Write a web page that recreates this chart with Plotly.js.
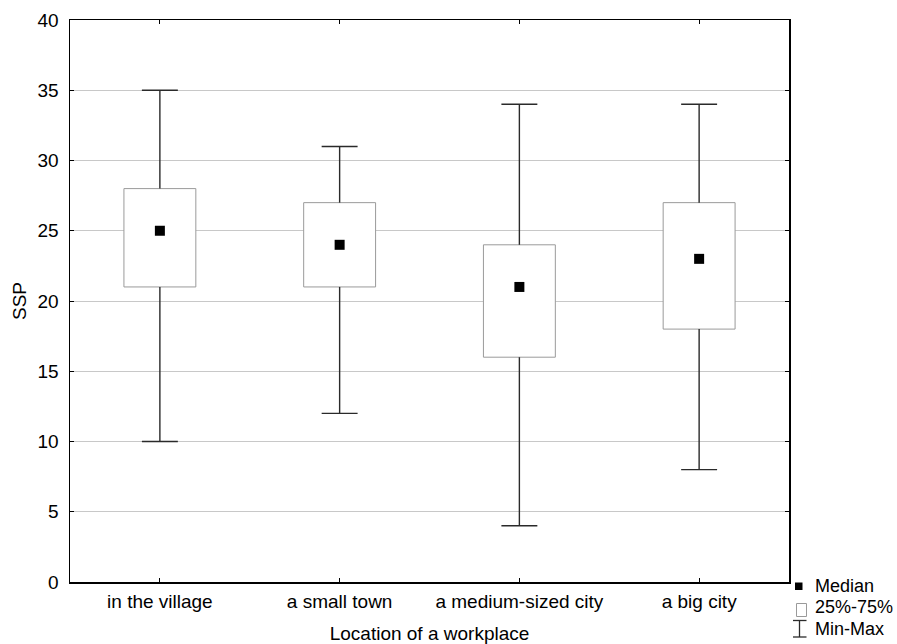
<!DOCTYPE html>
<html>
<head>
<meta charset="utf-8">
<script src="https://cdn.plot.ly/plotly-3.0.1.min.js"></script>
<style>html,body{margin:0;padding:0;background:#fff;}#chart{width:897px;height:644px;}</style>
</head>
<body>
<div id="chart"></div>
<script>
var categories = ["in the village", "a small town", "a medium-sized city", "a big city"];
var minValues = [10, 12, 4, 8];
var q1Values = [21, 21, 16, 18];
var medianValues = [25, 24, 21, 23];
var q3Values = [28, 27, 24, 27];
var maxValues = [35, 31, 34, 34];
var yTicks = [0, 5, 10, 15, 20, 25, 30, 35, 40];
var legendLabels = ["Median", "25%-75%", "Min-Max"];

var FONT = "Liberation Sans, Arial, sans-serif";
var FS = 19;
var W = 897, H = 644;
var M = { l: 70, r: 108, t: 20, b: 62 };
var idx = categories.map(function (c, i) { return i; });
var capHalf = 0.1;

// pixel -> paper helpers (for legend placement only)
function px(x) { return (x - M.l) / (W - M.l - M.r); }
function py(y) { return (H - M.b - y) / (H - M.t - M.b); }

// whisker + cap segments built from the data arrays
var wx = [], wy = [];
idx.forEach(function (i) {
  wx.push(i - capHalf, i + capHalf, null, i, i, null, i, i, null, i - capHalf, i + capHalf, null);
  wy.push(maxValues[i], maxValues[i], null, maxValues[i], q3Values[i], null, q1Values[i], minValues[i], null, minValues[i], minValues[i], null);
});

var traces = [
  {
    type: "bar", name: legendLabels[1],
    x: idx, base: q1Values,
    y: q3Values.map(function (v, i) { return v - q1Values[i]; }),
    width: 0.4,
    marker: { color: "#ffffff", line: { color: "#9a9a9a", width: 1 } },
    hoverinfo: "none"
  },
  {
    type: "scatter", mode: "lines", name: legendLabels[2],
    x: wx, y: wy, connectgaps: false,
    line: { color: "#2a2a2a", width: 1.4 },
    hoverinfo: "none"
  },
  {
    type: "scatter", mode: "markers", name: legendLabels[0],
    x: idx, y: medianValues,
    marker: { symbol: "square", size: 10, color: "#000" },
    hoverinfo: "y"
  }
];

// legend drawn as annotations + small shapes
var legendRows = [586, 607, 629];
var annotations = legendLabels.map(function (t, k) {
  return {
    xref: "paper", yref: "paper", x: px(814), y: py(legendRows[k]),
    xanchor: "left", yanchor: "middle", showarrow: false, borderpad: 0,
    text: t, font: { family: FONT, size: 18, color: "#000" }
  };
});
var shapes = [
  { type: "rect", xref: "paper", yref: "paper", x0: px(795), x1: px(802.5), y0: py(590), y1: py(582.5),
    fillcolor: "#000", line: { width: 0 } },
  { type: "rect", xref: "paper", yref: "paper", x0: px(796.5), x1: px(806.5), y0: py(616.5), y1: py(603.5),
    fillcolor: "#fff", line: { color: "#9a9a9a", width: 1 } },
  { type: "line", xref: "paper", yref: "paper", x0: px(799.5), x1: px(799.5), y0: py(620.5), y1: py(637),
    line: { color: "#2a2a2a", width: 1.3 } },
  { type: "line", xref: "paper", yref: "paper", x0: px(793), x1: px(806.5), y0: py(620.5), y1: py(620.5),
    line: { color: "#2a2a2a", width: 1.3 } },
  { type: "line", xref: "paper", yref: "paper", x0: px(793), x1: px(806.5), y0: py(637), y1: py(637),
    line: { color: "#2a2a2a", width: 1.3 } }
];

var layout = {
  width: W, height: H,
  margin: { l: M.l, r: M.r, t: M.t, b: M.b, autoexpand: false },
  paper_bgcolor: "#fff", plot_bgcolor: "#fff",
  font: { family: FONT, size: FS, color: "#000" },
  showlegend: false,
  xaxis: {
    range: [-0.5, 3.5],
    tickmode: "array", tickvals: idx, ticktext: categories,
    ticks: "inside", ticklen: 4, tickcolor: "#000", tickwidth: 1,
    showline: true, linecolor: "#000", linewidth: 1.5, mirror: "ticks",
    showgrid: false, zeroline: false, ticklabelstandoff: 2,
    tickfont: { size: FS, family: FONT },
    title: { text: "Location of a workplace", font: { size: FS, family: FONT }, standoff: 18 }
  },
  yaxis: {
    range: [0, 40],
    tickmode: "array", tickvals: yTicks,
    ticks: "inside", ticklen: 4, tickcolor: "#000", tickwidth: 1,
    showline: true, linecolor: "#000", linewidth: 1.5, mirror: "ticks",
    showgrid: true, gridcolor: "#c8c8c8", gridwidth: 1, zeroline: false,
    ticklabelstandoff: 6,
    tickfont: { size: FS, family: FONT },
    title: { text: "SSP", font: { size: FS, family: FONT }, standoff: 6 }
  },
  annotations: annotations,
  shapes: shapes,
  barmode: "overlay"
};

Plotly.newPlot("chart", traces, layout, { displayModeBar: false, staticPlot: true });
</script>
</body>
</html>
